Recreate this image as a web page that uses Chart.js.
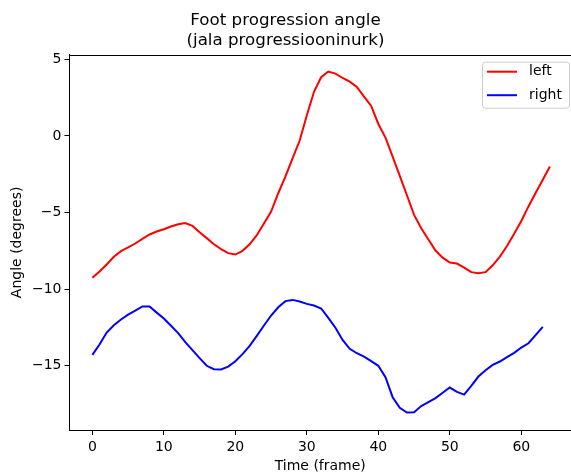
<!DOCTYPE html>
<html>
<head>
<meta charset="utf-8">
<script src="https://cdn.jsdelivr.net/npm/chart.js@4.4.1/dist/chart.umd.min.js"></script>
<style>
  html, body { margin: 0; padding: 0; background: #fff; overflow: hidden; }
  canvas { display: block; }
</style>
</head>
<body>
<canvas id="footChart" width="571" height="475"></canvas>
<script>
// ======================================================
// Data
// ======================================================
const frames = [0, 1, 2, 3, 4, 5, 6, 7, 8, 9, 10, 11, 12, 13, 14, 15, 16, 17, 18, 19,
    20, 21, 22, 23, 24, 25, 26, 27, 28, 29, 30, 31, 32, 33, 34, 35, 36, 37, 38, 39,
    40, 41, 42, 43, 44, 45, 46, 47, 48, 49, 50, 51, 52, 53, 54, 55, 56, 57, 58, 59,
    60, 61, 62, 63, 64];

const leftAngle = [-9.26, -8.85, -8.39, -7.89, -7.52, -7.28, -7.02, -6.72, -6.43, -6.24,
    -6.09, -5.91, -5.76, -5.68, -5.87, -6.28, -6.67, -7.07, -7.39, -7.65,
    -7.74, -7.50, -7.07, -6.48, -5.72, -4.94, -3.74, -2.65, -1.46, -0.30,
    1.35, 2.88, 3.83, 4.20, 4.07, 3.78, 3.54, 3.20, 2.57, 1.96,
    0.78, -0.11, -1.35, -2.61, -3.87, -5.15, -6.02, -6.76, -7.48, -7.94,
    -8.26, -8.33, -8.59, -8.89, -8.96, -8.89, -8.44, -7.87, -7.18, -6.39,
    -5.55, -4.60, -3.73, -2.86, -2.00];

const rightAngle = [-14.29, -13.61, -12.83, -12.35, -11.98, -11.66, -11.40, -11.13, -11.13, -11.53,
    -11.92, -12.39, -12.87, -13.46, -13.98, -14.50, -15.00, -15.22, -15.24, -15.05,
    -14.70, -14.24, -13.70, -13.05, -12.37, -11.72, -11.18, -10.78, -10.70, -10.81,
    -10.96, -11.07, -11.26, -11.87, -12.52, -13.31, -13.89, -14.18, -14.40, -14.70,
    -15.00, -15.74, -17.05, -17.74, -18.05, -18.03, -17.63, -17.37, -17.11, -16.76,
    -16.42, -16.70, -16.88, -16.31, -15.70, -15.29, -14.94, -14.72, -14.44, -14.16,
    -13.81, -13.53, -13.00, -12.46];

const xTicks = [0, 10, 20, 30, 40, 50, 60];
const yTicks = [-15, -10, -5, 0, 5];

// ======================================================
// Helpers
// ======================================================
const FONT = "'DejaVu Sans', sans-serif";

function toPoints(xs, ys) {
    return ys.map(function(y, i) { return { x: xs[i], y: y }; });
}

function fmt(v) {
    return v < 0 ? '\u2212' + Math.abs(v) : String(v);
}

// top spine only (right spine falls just outside the picture in the reference)
const topSpinePlugin = {
    id: 'topSpine',
    afterDatasetsDraw(chart) {
        const a = chart.chartArea;
        const ctx = chart.ctx;
        ctx.save();
        ctx.strokeStyle = '#000';
        ctx.lineWidth = 1;
        ctx.beginPath();
        ctx.moveTo(a.left, Math.round(a.top) + 0.5);
        ctx.lineTo(chart.width, Math.round(a.top) + 0.5);
        ctx.stroke();
        ctx.restore();
    }
};

// matplotlib-like legend inside upper right
const legendPlugin = {
    id: 'innerLegend',
    afterDraw(chart) {
        const a = chart.chartArea;
        const ctx = chart.ctx;
        const w = 87, h = 46;
        const x = 482;
        const y = a.top + 7;
        ctx.save();
        ctx.fillStyle = 'rgba(255,255,255,0.8)';
        ctx.strokeStyle = '#cccccc';
        ctx.lineWidth = 1;
        ctx.beginPath();
        ctx.roundRect(x + 0.5, y + 0.5, w, h, 3);
        ctx.fill();
        ctx.stroke();
        ctx.font = '14px ' + FONT;
        ctx.textBaseline = 'middle';
        chart.data.datasets.forEach(function(ds, i) {
            const ly = y + 10 + i * 23.5;
            ctx.strokeStyle = ds.borderColor;
            ctx.lineWidth = 2;
            ctx.beginPath();
            ctx.moveTo(x + 5, ly);
            ctx.lineTo(x + 35, ly);
            ctx.stroke();
            ctx.fillStyle = '#000';
            ctx.fillText(ds.label, x + 47, ly);
        });
        ctx.restore();
    }
};

// ======================================================
// Chart
// ======================================================
const ctx = document.getElementById('footChart').getContext('2d');
new Chart(ctx, {
    type: 'line',
    data: {
        datasets: [{
            label: 'left',
            data: toPoints(frames, leftAngle),
            borderColor: '#ff0000',
            borderWidth: 2,
            pointRadius: 0,
            tension: 0,
            fill: false
        }, {
            label: 'right',
            data: toPoints(frames, rightAngle),
            borderColor: '#0000ff',
            borderWidth: 2,
            pointRadius: 0,
            tension: 0,
            fill: false
        }]
    },
    options: {
        responsive: false,
        animation: false,
        events: [],
        layout: { padding: { left: 0, right: 0, top: 0, bottom: 0 } },
        plugins: {
            legend: { display: false },
            tooltip: { enabled: false },
            title: {
                display: true,
                text: ['Foot progression angle', '(jala progressiooninurk)'],
                color: '#000',
                font: { family: FONT, size: 16.7, weight: 'normal', lineHeight: 1.15 },
                padding: { top: 11.4, bottom: 4.9 }
            }
        },
        scales: {
            x: {
                type: 'linear',
                min: -3.2,
                max: 66.95,
                afterBuildTicks: function(scale) {
                    scale.ticks = xTicks.map(function(v) { return { value: v }; });
                },
                afterFit: function(scale) { scale.height = 45; },
                grid: { drawOnChartArea: false, drawTicks: true, tickLength: 5, color: '#000' },
                border: { display: true, color: '#000', width: 1 },
                ticks: {
                    color: '#000',
                    padding: 4,
                    maxRotation: 0,
                    font: { family: FONT, size: 14 },
                    callback: function(v) { return fmt(v); }
                },
                title: {
                    display: true,
                    text: 'Time (frame)',
                    color: '#000',
                    font: { family: FONT, size: 14 },
                    padding: { top: 1, bottom: 0 }
                }
            },
            y: {
                min: -19.19,
                max: 5.3,
                afterBuildTicks: function(scale) {
                    scale.ticks = yTicks.map(function(v) { return { value: v }; });
                },
                afterFit: function(scale) { scale.width = 69.5; },
                grid: { drawOnChartArea: false, drawTicks: true, tickLength: 5, color: '#000' },
                border: { display: true, color: '#000', width: 1 },
                ticks: {
                    color: '#000',
                    padding: 3,
                    font: { family: FONT, size: 14 },
                    callback: function(v) { return fmt(v); }
                },
                title: {
                    display: true,
                    text: 'Angle (degrees)',
                    color: '#000',
                    font: { family: FONT, size: 14 },
                    padding: { top: 9, bottom: 0 }
                }
            }
        }
    },
    plugins: [topSpinePlugin, legendPlugin]
});
</script>
</body>
</html>
